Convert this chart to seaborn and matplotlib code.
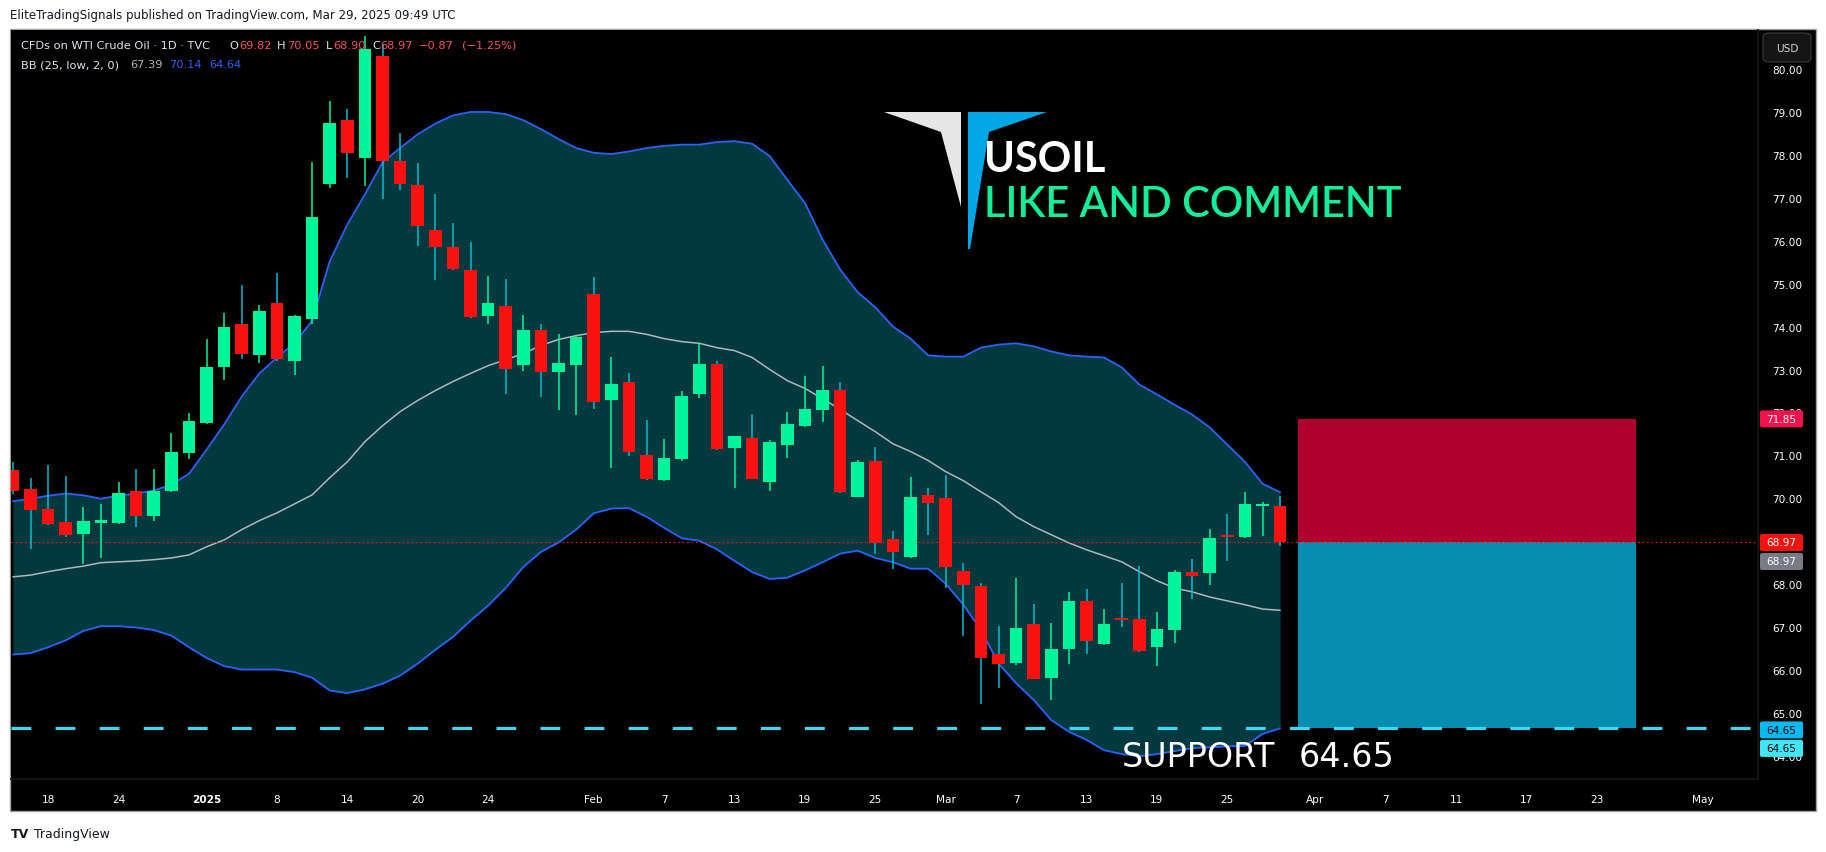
import numpy as np
import pandas as pd
import matplotlib
matplotlib.use('Agg')
import matplotlib.pyplot as plt
import seaborn as sns
from matplotlib.patches import Rectangle, Polygon, FancyBboxPatch

# daily candles, TVC USOIL, 16 Dec 2024 - 28 Mar 2025
opens = [70.66, 70.22, 69.76, 69.44, 69.16, 69.42, 69.42, 70.17, 69.58, 70.16, 71.05,
         71.76, 73.06, 74.05, 73.33, 74.54, 73.19, 74.17, 77.33, 78.81, 77.93, 80.30, 77.86,
         77.29, 76.24, 75.85, 75.33, 74.24, 74.47, 73.10, 73.91, 72.94, 73.10,
         74.75, 72.30, 72.70, 71.02, 70.42, 70.91, 72.42, 73.12, 71.16, 71.41, 70.39, 71.23,
         71.68, 72.05, 72.53, 70.04, 70.88, 69.06, 68.64, 70.08,
         70.01, 68.31, 67.96, 66.37, 66.17, 67.07, 65.81, 66.50, 67.61, 66.61, 67.21, 67.19,
         66.54, 66.94, 68.29, 68.27, 69.13, 69.09, 69.82, 69.82]
highs = [70.85, 70.47, 70.77, 70.53, 69.80, 69.87, 70.38, 70.69, 70.69, 71.51, 71.98,
         73.70, 74.31, 74.97, 74.50, 75.26, 74.27, 77.83, 79.26, 79.07, 80.78, 80.58, 78.52,
         77.82, 77.10, 76.42, 75.96, 75.19, 75.12, 74.28, 74.05, 73.82, 73.78,
         75.15, 73.30, 72.93, 71.82, 71.37, 72.51, 73.62, 73.19, 71.46, 71.97, 71.36, 72.00,
         72.86, 73.09, 72.72, 70.90, 71.20, 69.24, 70.50, 70.25,
         70.55, 68.50, 68.02, 67.03, 68.15, 67.54, 67.10, 67.82, 67.89, 67.42, 68.03, 68.43,
         67.35, 68.33, 68.59, 69.29, 69.64, 70.15, 69.92, 70.05]
lows = [70.10, 68.83, 69.37, 69.10, 68.46, 68.61, 69.39, 69.34, 69.46, 70.14, 70.91,
        71.74, 72.76, 73.24, 73.16, 73.20, 72.87, 74.06, 77.23, 77.46, 77.28, 76.97, 77.18,
        75.88, 75.08, 75.32, 74.19, 74.06, 72.43, 72.96, 72.36, 72.05, 71.95,
        72.09, 70.70, 70.98, 70.42, 70.40, 70.86, 72.33, 71.12, 70.25, 70.44, 70.16, 70.93,
        71.66, 71.77, 70.12, 70.02, 68.70, 68.36, 68.60, 69.15,
        67.90, 66.78, 65.21, 65.59, 66.12, 65.78, 65.29, 66.15, 66.38, 66.58, 67.01, 66.43,
        66.10, 66.64, 67.66, 67.97, 68.53, 69.07, 69.13, 68.90]
closes = [70.17, 69.72, 69.39, 69.14, 69.48, 69.50, 70.13, 69.58, 70.16, 71.09, 71.81,
          73.05, 74.00, 73.36, 74.37, 73.25, 74.25, 76.55, 78.74, 78.05, 80.47, 77.86, 77.32,
          76.34, 75.85, 75.34, 74.22, 74.54, 73.01, 73.91, 72.94, 73.16, 73.75,
          72.24, 72.67, 71.07, 70.44, 70.95, 72.39, 73.12, 71.14, 71.44, 70.46, 71.32, 71.72,
          72.07, 72.53, 70.14, 70.85, 68.95, 68.74, 70.04, 69.88,
          68.39, 67.97, 66.29, 66.15, 66.98, 65.80, 66.49, 67.61, 66.68, 67.07, 67.17, 66.45,
          66.96, 68.29, 68.20, 69.08, 69.10, 69.87, 69.87, 68.97]

# Bollinger bands BB(25, low, 2, 0) as drawn on the chart
bb_upper = [69.93, 69.99, 70.06, 70.11, 70.07, 69.99, 70.06, 70.11, 70.18, 70.32, 70.57,
            71.13, 71.72, 72.37, 72.91, 73.28, 73.61, 74.14, 75.52, 76.38, 77.08, 77.83, 78.16,
            78.48, 78.73, 78.92, 79.00, 79.00, 78.95, 78.81, 78.60, 78.37, 78.16,
            78.05, 78.02, 78.08, 78.16, 78.21, 78.24, 78.24, 78.30, 78.32, 78.26, 77.97, 77.42,
            76.88, 76.03, 75.33, 74.80, 74.45, 74.00, 73.72, 73.33,
            73.30, 73.30, 73.51, 73.58, 73.61, 73.54, 73.42, 73.33, 73.30, 73.28, 73.05, 72.65,
            72.42, 72.18, 71.95, 71.65, 71.25, 70.85, 70.34, 70.14]
bb_mid = [68.17, 68.21, 68.29, 68.36, 68.42, 68.50, 68.52, 68.54, 68.57, 68.61, 68.68,
          68.87, 69.03, 69.27, 69.48, 69.66, 69.87, 70.08, 70.48, 70.85, 71.32, 71.69, 72.02,
          72.28, 72.51, 72.72, 72.91, 73.09, 73.23, 73.37, 73.56, 73.70, 73.79,
          73.86, 73.89, 73.89, 73.82, 73.72, 73.65, 73.61, 73.51, 73.44, 73.28, 73.00, 72.74,
          72.56, 72.32, 72.07, 71.81, 71.55, 71.27, 71.09, 70.88,
          70.62, 70.41, 70.15, 69.90, 69.57, 69.34, 69.15, 68.96, 68.80, 68.66, 68.52, 68.29,
          68.08, 67.91, 67.82, 67.70, 67.61, 67.52, 67.42, 67.39]
bb_lower = [66.36, 66.39, 66.53, 66.69, 66.91, 67.02, 67.02, 66.99, 66.93, 66.80, 66.53,
            66.28, 66.09, 66.01, 66.01, 66.01, 65.95, 65.82, 65.52, 65.46, 65.55, 65.68, 65.87,
            66.15, 66.47, 66.77, 67.15, 67.50, 67.91, 68.40, 68.75, 68.97, 69.27,
            69.65, 69.76, 69.77, 69.57, 69.31, 69.07, 69.01, 68.81, 68.54, 68.28, 68.12, 68.15,
            68.32, 68.51, 68.71, 68.78, 68.61, 68.51, 68.36, 68.36,
            68.01, 67.52, 66.93, 66.15, 65.69, 65.30, 64.83, 64.56, 64.37, 64.13, 64.04, 63.99,
            64.04, 64.11, 64.18, 64.20, 64.22, 64.23, 64.51, 64.64]

# short position tool and support
stop_level = 71.85
entry_level = 68.97
support_level = 64.65
pos_start = '2025-03-31'
pos_bars = 19.2

tick_dates = ['2024-12-18', '2024-12-24', '2025-01-02', '2025-01-08', '2025-01-14', '2025-01-20',
              '2025-01-24', '2025-02-03', '2025-02-07', '2025-02-13', '2025-02-19', '2025-02-25',
              '2025-03-03', '2025-03-07', '2025-03-13', '2025-03-19', '2025-03-25', '2025-04-01',
              '2025-04-07', '2025-04-11', '2025-04-17', '2025-04-23', '2025-05-01']
tick_labels = ['18', '24', '2025', '8', '14', '20', '24', 'Feb', '7', '13', '19', '25',
               'Mar', '7', '13', '19', '25', 'Apr', '7', '11', '17', '23', 'May']
price_ticks = list(range(64, 81))

# trading calendar (no bars on Christmas / New Year)
cal = pd.bdate_range('2024-12-16', '2025-05-09')
cal = cal[~cal.isin(pd.to_datetime(['2024-12-25', '2025-01-01']))]

sns.set_theme(style='dark')
plt.rcParams['font.family'] = ['DejaVu Sans']

W, H = 1826, 853
fig = plt.figure(figsize=(W / 100, H / 100), dpi=100)
fig.patch.set_facecolor('white')

def fx(px):
    return px / W

def fy(py):
    return 1 - py / H

# black chart panel (behind the axes)
fig.patches.append(Rectangle((fx(10), fy(812)), fx(1816) - fx(10), fy(30) - fy(812),
                             transform=fig.transFigure, facecolor='black',
                             edgecolor='#a0a0a0', lw=1, zorder=-5))

ax = fig.add_axes([fx(11), fy(780), fx(1758) - fx(11), fy(31) - fy(780)])
ax.set_zorder(1)
ax.set_facecolor('black')
ax.grid(False)

o = np.array(opens); h = np.array(highs); l = np.array(lows); c = np.array(closes)
x = np.arange(len(o))
up = c >= o
green, red, cyan = '#00f59b', '#f7120f', '#00bcd4'

ax.fill_between(x, bb_lower, bb_upper, color='#02393f', lw=0, zorder=1)
sns.lineplot(x=x, y=bb_upper, ax=ax, color='#2962ff', lw=1.3, zorder=2)
sns.lineplot(x=x, y=bb_lower, ax=ax, color='#2962ff', lw=1.3, zorder=2)
sns.lineplot(x=x, y=bb_mid, ax=ax, color='#b2b5be', lw=1.1, zorder=2)

# position tool
p0 = cal.get_loc(pd.Timestamp(pos_start))
ax.fill_between([p0, p0 + pos_bars], entry_level, stop_level, color='#b0002e', lw=0, zorder=1.5)
ax.fill_between([p0, p0 + pos_bars], support_level, entry_level, color='#078db1', lw=0, zorder=1.5)

ax.axhline(entry_level, color=red, lw=0.8, ls=(0, (1.5, 2.5)), zorder=2.5)

# candles
ax.vlines(x, l, h, colors=np.where(up, green, cyan), lw=1.1, zorder=3)
ax.bar(x, np.maximum(np.abs(c - o), 0.05), bottom=np.minimum(o, c), width=0.72,
       color=np.where(up, green, red), lw=0, zorder=4)

ax.axhline(support_level, color='#3cd8ef', lw=2.3, ls=(0, (6.2, 7.6)), zorder=5)

ax.set_xlim(-0.11, 99.15)
ax.set_ylim(63.46, 80.91)

ax.set_xticks([cal.get_loc(pd.Timestamp(d)) for d in tick_dates])
ax.set_xticklabels(tick_labels)
ax.get_xticklabels()[2].set_fontweight('bold')
ax.yaxis.tick_right()
ax.set_yticks(price_ticks)
ax.set_yticklabels([f'{v:.2f}' for v in price_ticks])
ax.tick_params(axis='x', length=0, pad=11, labelsize=7.6, labelcolor='white')
ax.tick_params(axis='y', length=0, pad=10, labelsize=7.6, labelcolor='white')
for s in ['top', 'left']:
    ax.spines[s].set_visible(False)
for s in ['bottom', 'right']:
    ax.spines[s].set_color('#161616')

# price labels on the scale
def price_box(price, text, face, tcolor, shift=0):
    yd = ax.transData.transform((0, price))[1] - shift
    fig.patches.append(FancyBboxPatch((1760, yd - 8.5), 43, 17, boxstyle='round,pad=0,rounding_size=2',
                                      transform=None, facecolor=face, lw=0, zorder=10))
    fig.text(fx(1781.5), yd / H, text, color=tcolor, fontsize=7.6, ha='center', va='center', zorder=11)

price_box(stop_level, f'{stop_level:.2f}', '#f5124c', 'white')
price_box(entry_level, f'{entry_level:.2f}', red, 'white')
price_box(entry_level, f'{entry_level:.2f}', '#787b86', 'white', shift=19)
price_box(support_level, f'{support_level:.2f}', '#00bcf2', '#000000', shift=2)
price_box(support_level, f'{support_level:.2f}', '#3ee6f6', '#000000', shift=20.5)

# USD button
fig.patches.append(FancyBboxPatch((fx(1763), fy(63)), fx(1811) - fx(1763), fy(34) - fy(63),
                                  boxstyle='round,pad=0,rounding_size=0.004', transform=fig.transFigure,
                                  facecolor='#141414', edgecolor='#3a3a3a', lw=0.8, zorder=10))
fig.text(fx(1787), fy(48.5), 'USD', color='#d1d4dc', fontsize=7.6, ha='center', va='center', zorder=11)

# header / footer
fig.text(fx(10), fy(15), 'EliteTradingSignals published on TradingView.com, Mar 29, 2025 09:49 UTC',
         fontsize=8.5, color='#131722', va='center')
fig.text(fx(11), fy(835), 'TV', fontsize=9, fontweight='heavy', color='#131722', va='center')
fig.text(fx(34), fy(835), 'TradingView', fontsize=9, color='#131722', va='center')

# legend lines
lc, rc, bc = '#e0e3eb', '#f7525f', '#2962ff'
leg1 = [(21, 'CFDs on WTI Crude Oil · 1D · TVC', lc), (229, 'O', lc), (239, f'{opens[-1]:.2f}', rc),
        (277, 'H', lc), (287, f'{highs[-1]:.2f}', rc), (326, 'L', lc), (333, f'{lows[-1]:.2f}', rc),
        (372, 'C', lc), (380, f'{closes[-1]:.2f}', rc), (419, '−0.87', rc), (462, '(−1.25%)', rc)]
for px_, t, col in leg1:
    fig.text(fx(px_), fy(46), t, fontsize=8.2, color=col, va='center', zorder=12)
leg2 = [(21, 'BB (25, low, 2, 0)', lc), (130, f'{bb_mid[-1]:.2f}', '#b2b5be'),
        (169, f'{bb_upper[-1]:.2f}', bc), (209, f'{bb_lower[-1]:.2f}', bc)]
for px_, t, col in leg2:
    fig.text(fx(px_), fy(65), t, fontsize=8.2, color=col, va='center', zorder=12)

# logo and captions
white_pts = [(884, 113), (961, 113), (961, 208), (941, 133)]
blue_pts = [(968, 113), (1047, 113), (989, 133), (970, 250), (968, 250)]
fig.patches.append(Polygon([(fx(a), fy(b)) for a, b in white_pts], closed=True,
                           transform=fig.transFigure, facecolor='#e6e6e6', lw=0, zorder=6))
fig.patches.append(Polygon([(fx(a), fy(b)) for a, b in blue_pts], closed=True,
                           transform=fig.transFigure, facecolor='#00a6e6', lw=0, zorder=6))
fig.text(fx(984), fy(160), 'USOIL', family='Lato', fontweight='bold', fontsize=30,
         color='white', va='center', zorder=7)
fig.text(fx(984), fy(205), 'LIKE AND COMMENT', family='Lato', fontweight='semibold', fontsize=30,
         color='#12ef9a', va='center', zorder=7)
fig.text(fx(1122), fy(758), 'SUPPORT', fontsize=24, color='white', va='center', zorder=7)
fig.text(fx(1299), fy(758), f'{support_level:.2f}', fontsize=24, color='white', va='center', zorder=7)

fig.savefig('out.png', dpi=100, facecolor=fig.get_facecolor())
